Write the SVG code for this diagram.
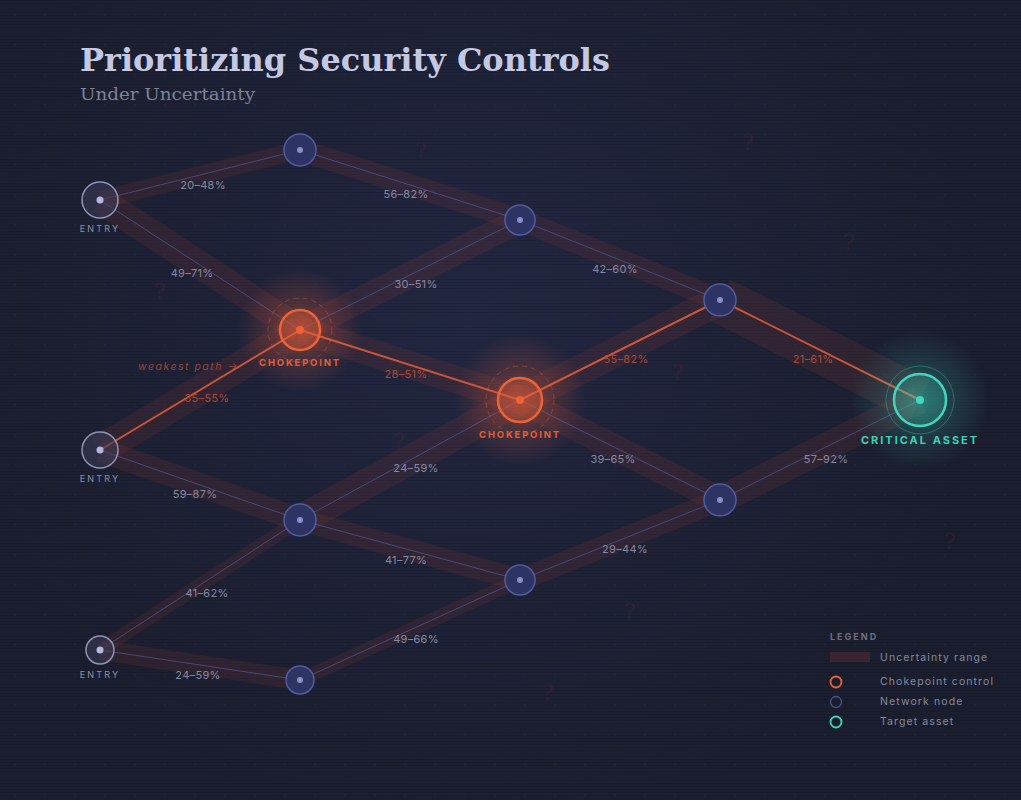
<svg xmlns="http://www.w3.org/2000/svg" width="1021" height="800" viewBox="0 0 1021 800">
<defs>
<radialGradient id="bgGlow" cx="470" cy="320" r="520" gradientUnits="userSpaceOnUse">
<stop offset="0" stop-color="#222742"/>
<stop offset="1" stop-color="#1b1e2e"/>
</radialGradient>
<pattern id="scan" width="4" height="3" patternUnits="userSpaceOnUse">
<rect width="4" height="1" fill="#000" opacity="0.1"/>
</pattern>
<pattern id="dots" width="30" height="30" patternUnits="userSpaceOnUse">
<circle cx="15" cy="15" r="0.8" fill="#262a44"/>
</pattern>
<radialGradient id="orangeGlow">
<stop offset="0" stop-color="#e8603a" stop-opacity="0.5"/>
<stop offset="0.45" stop-color="#e8603a" stop-opacity="0.22"/>
<stop offset="1" stop-color="#e8603a" stop-opacity="0"/>
</radialGradient>
<radialGradient id="tealGlow">
<stop offset="0" stop-color="#3dd6bd" stop-opacity="0.4"/>
<stop offset="0.5" stop-color="#3dd6bd" stop-opacity="0.15"/>
<stop offset="1" stop-color="#3dd6bd" stop-opacity="0"/>
</radialGradient>
<style>
.band{stroke:#8a3a32;stroke-opacity:0.18;fill:none;stroke-linecap:butt}
.edge{stroke:#5a63a8;stroke-opacity:0.6;stroke-width:1;fill:none}
.hot{stroke:#dc5b36;stroke-opacity:0.9;stroke-width:2;fill:none}
.lbl{font-family:Inter,"Liberation Sans",sans-serif;font-size:11px;fill:#858aa3;text-anchor:middle;letter-spacing:0.3px}
.lblhot{font-family:Inter,"Liberation Sans",sans-serif;font-size:11px;fill:#a84a34;text-anchor:middle;letter-spacing:0.3px}
.entry circle.ring{fill:#3a3d57;fill-opacity:0.55;stroke:#9094b5;stroke-width:1.5}
.entry circle.dot{fill:#b4b8de}
.entry text{font-family:Inter,"Liberation Sans",sans-serif;font-size:9px;fill:#8b8fa8;text-anchor:middle;letter-spacing:2.2px}
.net circle.ring{fill:#2d3363;stroke:#525da0;stroke-width:1.5}
.net circle.dot{fill:#8a90c5}
.choke circle.ring{fill:#e8603a;fill-opacity:0.28;stroke:#ee6236;stroke-width:2.5}
.choke circle.dash{fill:none;stroke:#e8603a;stroke-opacity:0.4;stroke-width:1;stroke-dasharray:5 4}
.choke circle.dot{fill:#ee6236}
.choke text{font-family:Inter,"Liberation Sans",sans-serif;font-size:9.5px;font-weight:700;fill:#e0603a;text-anchor:middle;letter-spacing:1.8px}
.q{font-family:"DejaVu Serif",serif;font-size:22px;fill:#5a2a30;fill-opacity:0.3;text-anchor:middle}
.leg{font-family:Inter,"Liberation Sans",sans-serif;font-size:10.5px;fill:#868aa0;letter-spacing:1.1px}
</style>
</defs>
<rect width="1021" height="800" fill="url(#bgGlow)"/>
<rect width="1021" height="800" fill="url(#dots)"/>
<rect width="1021" height="800" fill="url(#scan)"/>

<g id="question-marks">
<text class="q" x="421" y="158">?</text>
<text class="q" x="748" y="150">?</text>
<text class="q" x="849" y="250">?</text>
<text class="q" x="160" y="299">?</text>
<text class="q" x="678" y="380">?</text>
<text class="q" x="399" y="449">?</text>
<text class="q" x="950" y="549">?</text>
<text class="q" x="630" y="619">?</text>
<text class="q" x="548" y="700">?</text>
</g>

<g id="title">
<text x="80" y="71" font-family="'DejaVu Serif','Liberation Serif',serif" font-weight="700" font-size="32" fill="#c5c8e2" textLength="530" lengthAdjust="spacingAndGlyphs">Prioritizing Security Controls</text>
<text x="80" y="100" font-family="'DejaVu Serif','Liberation Serif',serif" font-size="16" fill="#7f8299" textLength="175" lengthAdjust="spacingAndGlyphs">Under Uncertainty</text>
</g>

<g id="connectors">
<g id="bands">
<line class="band" x1="100" y1="200" x2="300" y2="150" stroke-width="18"/>
<line class="band" x1="100" y1="200" x2="300" y2="330" stroke-width="28"/>
<line class="band" x1="300" y1="150" x2="520" y2="220" stroke-width="22"/>
<line class="band" x1="300" y1="330" x2="520" y2="220" stroke-width="26"/>
<line class="band" x1="300" y1="330" x2="520" y2="400" stroke-width="28"/>
<line class="band" x1="100" y1="450" x2="300" y2="330" stroke-width="30"/>
<line class="band" x1="520" y1="220" x2="720" y2="300" stroke-width="22"/>
<line class="band" x1="520" y1="400" x2="720" y2="300" stroke-width="30"/>
<line class="band" x1="720" y1="300" x2="920" y2="400" stroke-width="46"/>
<line class="band" x1="520" y1="400" x2="720" y2="500" stroke-width="26"/>
<line class="band" x1="720" y1="500" x2="920" y2="400" stroke-width="28"/>
<line class="band" x1="300" y1="520" x2="520" y2="400" stroke-width="30"/>
<line class="band" x1="100" y1="450" x2="300" y2="520" stroke-width="24"/>
<line class="band" x1="300" y1="520" x2="520" y2="580" stroke-width="22"/>
<line class="band" x1="520" y1="580" x2="720" y2="500" stroke-width="22"/>
<line class="band" x1="100" y1="650" x2="300" y2="520" stroke-width="14"/>
<line class="band" x1="100" y1="650" x2="300" y2="680" stroke-width="20"/>
<line class="band" x1="300" y1="680" x2="520" y2="580" stroke-width="14"/>
</g>
<g id="edges">
<line class="edge" x1="100" y1="200" x2="300" y2="150"/>
<line class="edge" x1="100" y1="200" x2="300" y2="330"/>
<line class="edge" x1="300" y1="150" x2="520" y2="220"/>
<line class="edge" x1="300" y1="330" x2="520" y2="220"/>
<line class="edge" x1="520" y1="220" x2="720" y2="300"/>
<line class="edge" x1="520" y1="400" x2="720" y2="500"/>
<line class="edge" x1="720" y1="500" x2="920" y2="400"/>
<line class="edge" x1="300" y1="520" x2="520" y2="400"/>
<line class="edge" x1="100" y1="450" x2="300" y2="520"/>
<line class="edge" x1="300" y1="520" x2="520" y2="580"/>
<line class="edge" x1="520" y1="580" x2="720" y2="500"/>
<line class="edge" x1="100" y1="650" x2="300" y2="520"/>
<line class="edge" x1="100" y1="650" x2="300" y2="680"/>
<line class="edge" x1="300" y1="680" x2="520" y2="580"/>
</g>
<g id="weakest-path">
<line class="hot" x1="100" y1="450" x2="300" y2="330"/>
<line class="hot" x1="300" y1="330" x2="520" y2="400"/>
<line class="hot" x1="520" y1="400" x2="720" y2="300"/>
<line class="hot" x1="720" y1="300" x2="920" y2="400"/>
</g>
<g id="edge-labels">
<text class="lbl" x="203" y="189">20–48%</text>
<text class="lbl" x="192" y="277">49–71%</text>
<text class="lbl" x="406" y="198">56–82%</text>
<text class="lbl" x="416" y="288">30–51%</text>
<text class="lblhot" x="406" y="378">28–51%</text>
<text class="lblhot" x="207" y="402">35–55%</text>
<text class="lbl" x="615" y="273">42–60%</text>
<text class="lblhot" x="626" y="363">55–82%</text>
<text class="lblhot" x="813" y="363">21–61%</text>
<text class="lbl" x="613" y="463">39–65%</text>
<text class="lbl" x="826" y="463">57–92%</text>
<text class="lbl" x="416" y="472">24–59%</text>
<text class="lbl" x="195" y="498">59–87%</text>
<text class="lbl" x="406" y="564">41–77%</text>
<text class="lbl" x="625" y="553">29–44%</text>
<text class="lbl" x="207" y="597">41–62%</text>
<text class="lbl" x="416" y="643">49–66%</text>
<text class="lbl" x="198" y="679">24–59%</text>
</g>
</g>

<g id="entry-1" class="entry">
<circle class="ring" cx="100" cy="200" r="18"/>
<circle class="dot" cx="100" cy="200" r="3.5"/>
<text x="100" y="232">ENTRY</text>
</g>
<g id="entry-2" class="entry">
<circle class="ring" cx="100" cy="450" r="18"/>
<circle class="dot" cx="100" cy="450" r="3.5"/>
<text x="100" y="482">ENTRY</text>
</g>
<g id="entry-3" class="entry">
<circle class="ring" cx="100" cy="650" r="14"/>
<circle class="dot" cx="100" cy="650" r="3.5"/>
<text x="100" y="678">ENTRY</text>
</g>

<g id="node-a" class="net"><circle class="ring" cx="300" cy="150" r="16"/><circle class="dot" cx="300" cy="150" r="3"/></g>
<g id="node-b" class="net"><circle class="ring" cx="520" cy="220" r="15"/><circle class="dot" cx="520" cy="220" r="3"/></g>
<g id="node-d" class="net"><circle class="ring" cx="720" cy="300" r="16"/><circle class="dot" cx="720" cy="300" r="3"/></g>
<g id="node-f" class="net"><circle class="ring" cx="300" cy="520" r="16"/><circle class="dot" cx="300" cy="520" r="3"/></g>
<g id="node-g" class="net"><circle class="ring" cx="520" cy="580" r="15"/><circle class="dot" cx="520" cy="580" r="3"/></g>
<g id="node-h" class="net"><circle class="ring" cx="720" cy="500" r="16"/><circle class="dot" cx="720" cy="500" r="3"/></g>
<g id="node-i" class="net"><circle class="ring" cx="300" cy="680" r="14"/><circle class="dot" cx="300" cy="680" r="3"/></g>

<g id="chokepoint-1" class="choke">
<circle cx="300" cy="330" r="62" fill="url(#orangeGlow)"/>
<circle class="dash" cx="300" cy="330" r="32"/>
<circle class="ring" cx="300" cy="330" r="20"/>
<circle class="dot" cx="300" cy="330" r="4"/>
<text x="300" y="366">CHOKEPOINT</text>
</g>
<g id="chokepoint-2" class="choke">
<circle cx="520" cy="400" r="66" fill="url(#orangeGlow)"/>
<circle class="dash" cx="520" cy="400" r="34"/>
<circle class="ring" cx="520" cy="400" r="22"/>
<circle class="dot" cx="520" cy="400" r="4"/>
<text x="520" y="438">CHOKEPOINT</text>
</g>

<text id="weakest-path-label" x="138" y="370" font-family="Inter,'Liberation Sans',sans-serif" font-size="10.5" font-style="italic" fill="#b04c35" letter-spacing="1.5" opacity="0.85">weakest path →</text>

<g id="critical-asset">
<circle cx="920" cy="400" r="70" fill="url(#tealGlow)"/>
<circle cx="920" cy="400" r="34" fill="none" stroke="#3dd6bd" stroke-opacity="0.35" stroke-width="1"/>
<circle cx="920" cy="400" r="26" fill="#3dd6bd" fill-opacity="0.18" stroke="#3fd8bf" stroke-width="2.5"/>
<circle cx="920" cy="400" r="4" fill="#3fd8bf"/>
<text x="920" y="444" font-family="Inter,'Liberation Sans',sans-serif" font-size="11" font-weight="700" fill="#3fd1ba" text-anchor="middle" letter-spacing="2">CRITICAL ASSET</text>
</g>

<g id="legend">
<text x="830" y="640" font-family="Inter,'Liberation Sans',sans-serif" font-size="9" font-weight="700" fill="#6b6f86" letter-spacing="2">LEGEND</text>
<rect x="830" y="652" width="40" height="10" fill="#3a2430"/>
<text class="leg" x="880" y="661">Uncertainty range</text>
<circle cx="836" cy="682" r="5.5" fill="none" stroke="#ee6236" stroke-width="1.8"/>
<text class="leg" x="880" y="685">Chokepoint control</text>
<circle cx="836" cy="702" r="5.5" fill="none" stroke="#4c5590" stroke-width="1.3"/>
<text class="leg" x="880" y="705">Network node</text>
<circle cx="836" cy="722" r="5.5" fill="none" stroke="#3fd8bf" stroke-width="1.8"/>
<text class="leg" x="880" y="725">Target asset</text>
</g>
</svg>
